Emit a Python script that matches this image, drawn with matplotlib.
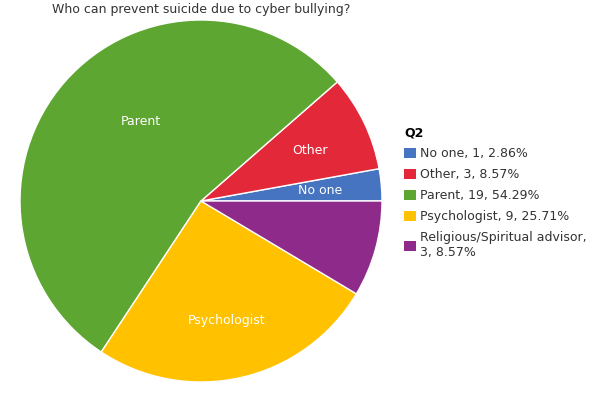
import matplotlib.pyplot as plt
from matplotlib.patches import Patch

categories = ['No one', 'Other', 'Parent', 'Psychologist', 'Religious/Spiritual advisor']
counts = [1, 3, 19, 9, 3]
percents = ['2.86%', '8.57%', '54.29%', '25.71%', '8.57%']
colors = ['#4674c1', '#e3283a', '#5ea632', '#ffc100', '#8e2b8a']
slice_labels = ['No one', 'Other', 'Parent', 'Psychologist', '']
label_pos = [(0.66, 0.06), (0.60, 0.28), (-0.33, 0.44), (0.14, -0.66), (0, 0)]

fig = plt.figure(figsize=(6, 4.01), dpi=100)
ax = fig.add_axes([20 / 600, 19 / 401, 362 / 600, 362 / 401])
ax.pie(counts, colors=colors, startangle=0, counterclock=True,
       wedgeprops=dict(edgecolor='white', linewidth=1))
ax.set_xlim(-1, 1)
ax.set_ylim(-1, 1)
ax.set_aspect('equal')

for lab, (x, y) in zip(slice_labels, label_pos):
    if lab:
        ax.text(x, y, lab, color='white', fontsize=9, ha='center', va='center')

fig.text(201 / 600, 1 - 10 / 401, 'Who can prevent suicide due to cyber bullying?',
         ha='center', va='center', fontsize=9, color='#333333')

handles = [Patch(facecolor=c, edgecolor='none') for c in colors]
leg_labels = []
for cat, n, p in zip(categories, counts, percents):
    if cat.startswith('Religious'):
        leg_labels.append(f'{cat},\n{n}, {p}')
    else:
        leg_labels.append(f'{cat}, {n}, {p}')
leg = fig.legend(handles, leg_labels, loc='upper left', bbox_to_anchor=(393 / 600, 1 - 115 / 401),
                 frameon=False, fontsize=9, title='Q2', title_fontproperties={'weight': 'bold', 'size': 9},
                 handlelength=0.9, handleheight=0.9, handletextpad=0.4, labelspacing=0.64,
                 alignment='left')
for t in leg.get_texts():
    t.set_color('#333333')

fig.savefig('out.png', dpi=100)
